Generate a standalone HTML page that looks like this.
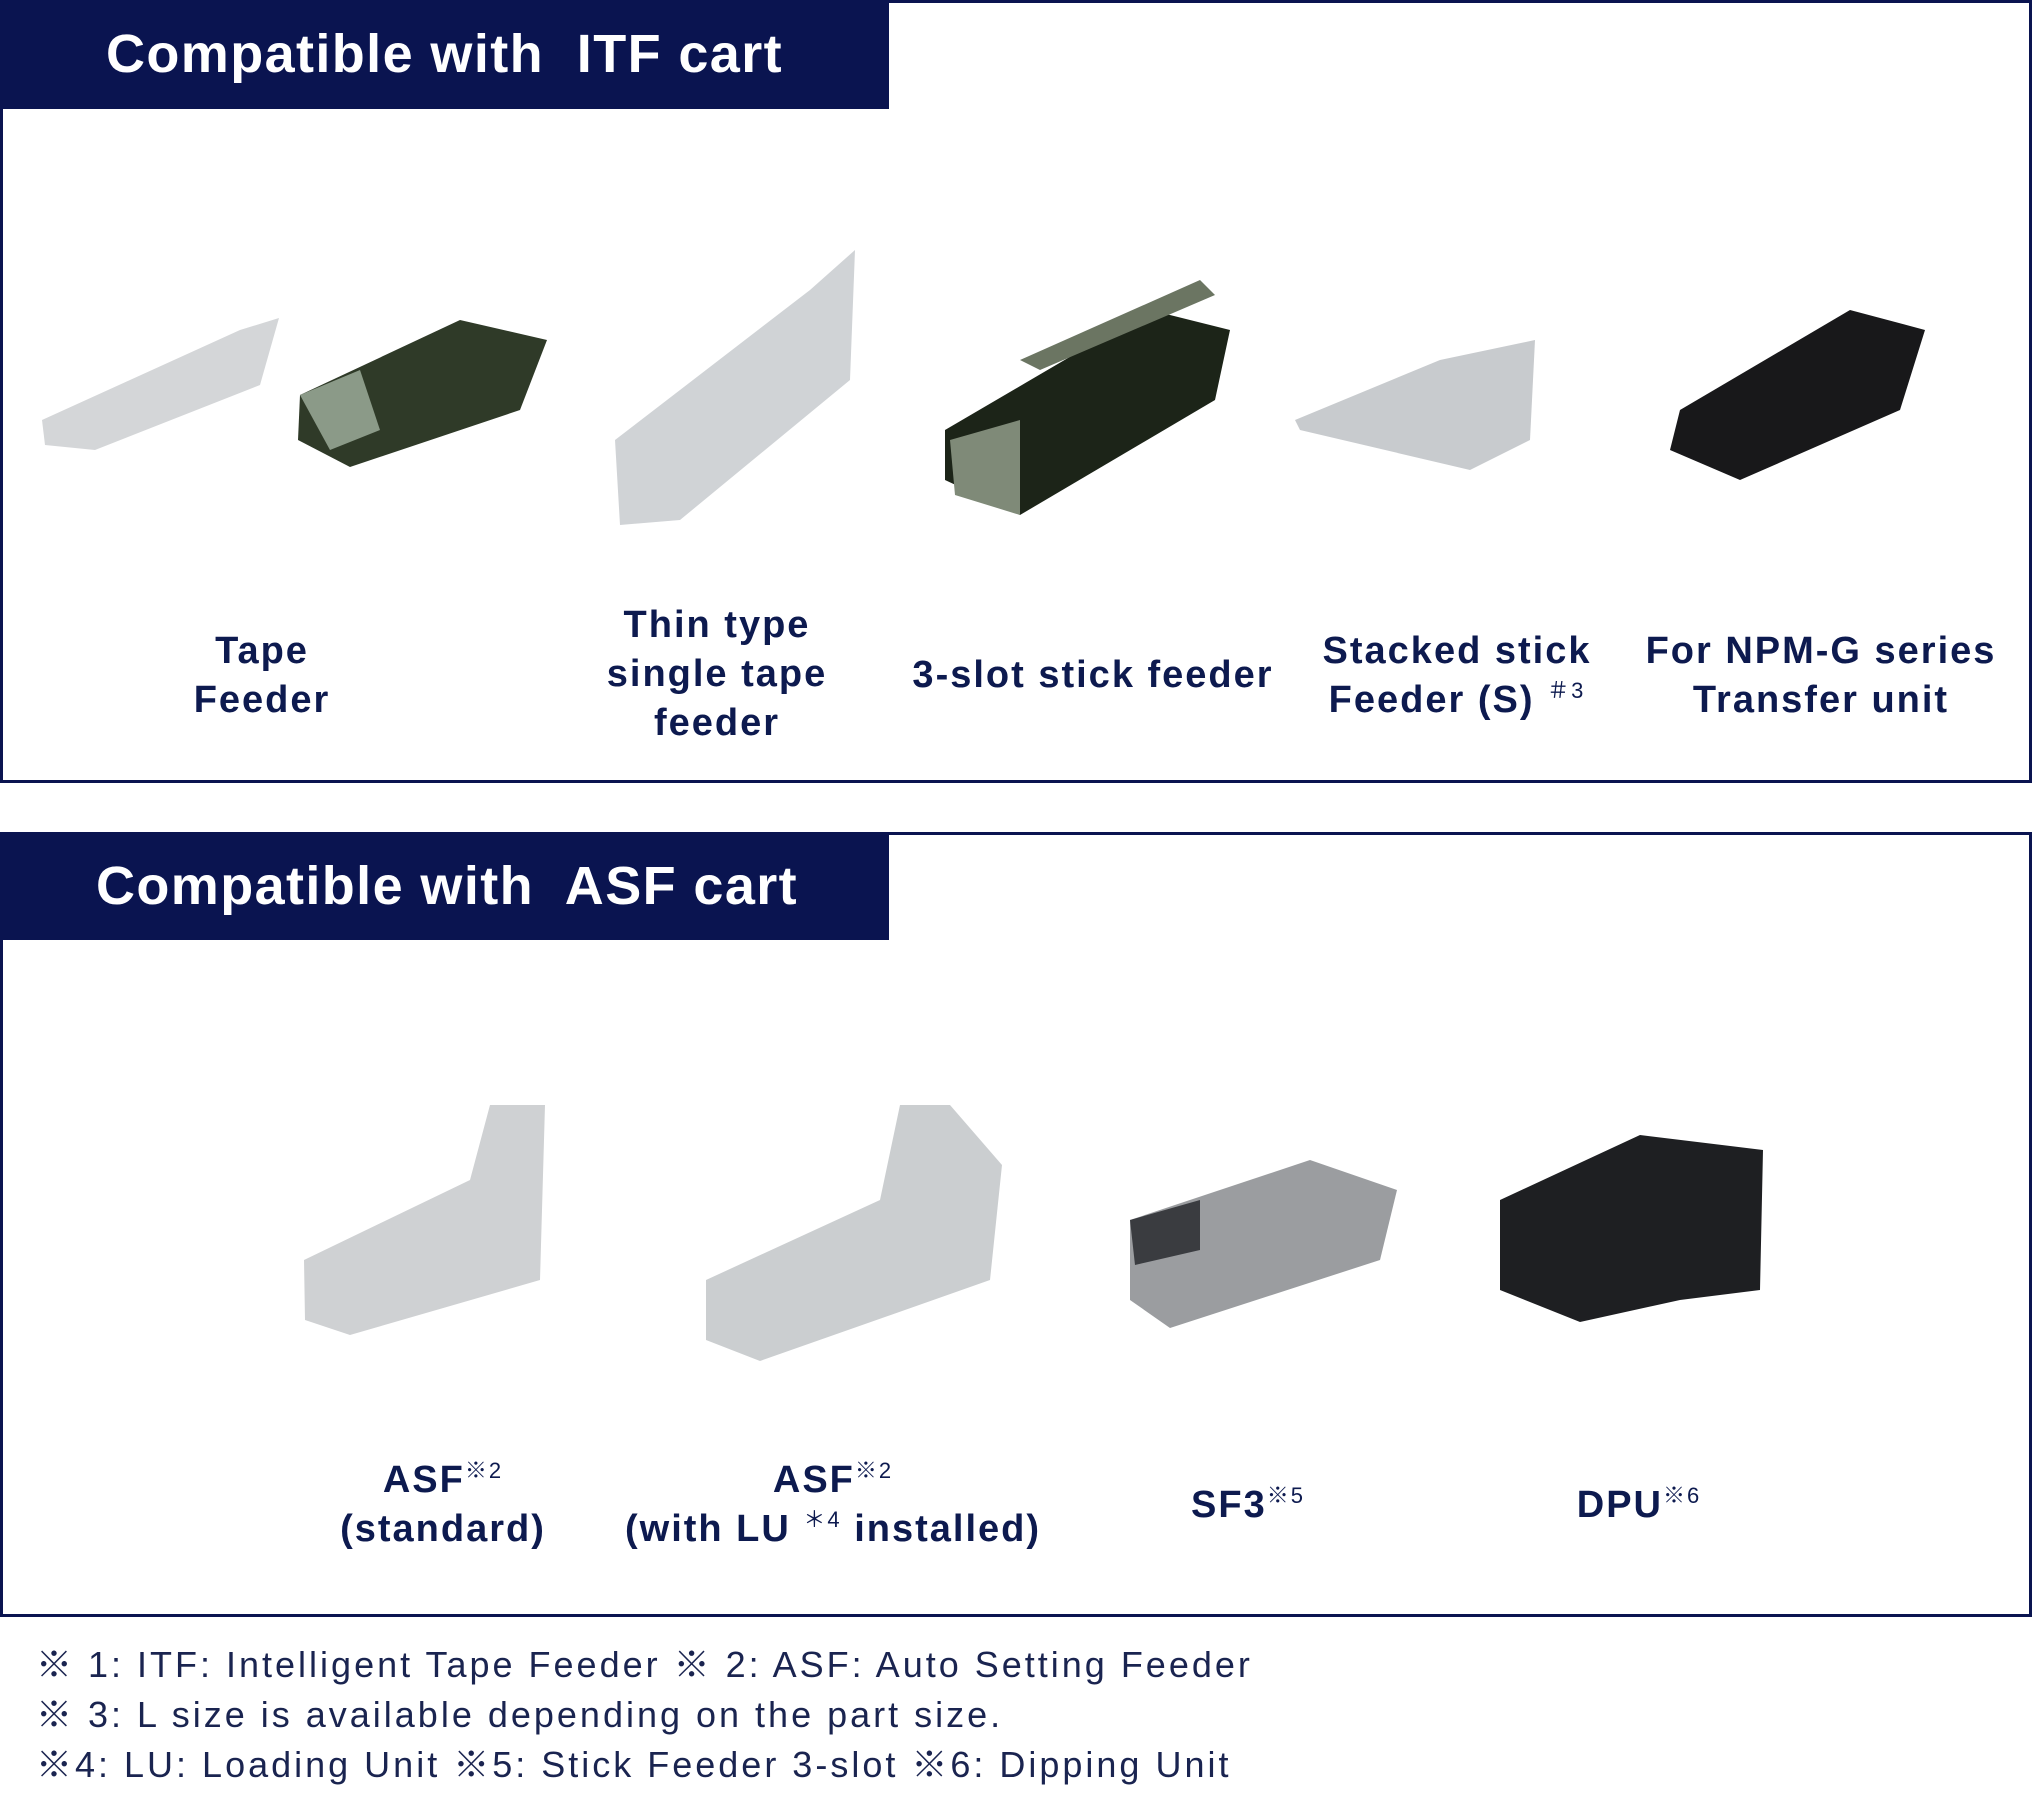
<!DOCTYPE html>
<html><head><meta charset="utf-8"><style>
body{margin:0;width:2032px;height:1816px;background:#fff;position:relative;overflow:hidden;font-family:"Liberation Sans","Noto Sans CJK JP",sans-serif;color:#0d1a4f}
.box{position:absolute;left:0;width:2026px;border:3px solid #0a1450}
.hdr{position:absolute;left:0;width:889px;background:#0a1450;color:#fff;font-size:54px;font-weight:bold;line-height:108px;letter-spacing:1.4px}
.lbl{position:absolute;text-align:center;font-weight:bold;font-size:38px;line-height:49px;white-space:nowrap;transform:translateX(-50%);letter-spacing:2px}
sup{font-size:22px;vertical-align:14px;font-weight:normal;line-height:0}
.fn{position:absolute;left:36px;font-size:36px;line-height:50px;color:#1a2450;letter-spacing:3px;white-space:nowrap}
svg{position:absolute;left:0;top:0}
</style></head><body>
<div class="box" style="top:0;height:777px"></div>
<div class="hdr" style="top:0;height:109px;padding-left:106px;box-sizing:border-box">Compatible with&nbsp; ITF cart</div>
<div class="box" style="top:832px;height:779px"></div>
<div class="hdr" style="top:832px;height:108px;padding-left:96px;box-sizing:border-box">Compatible with&nbsp; ASF cart</div>
<svg width="2032" height="1816">
<g>
<polygon points="42,420 240,330 279,318 260,385 95,450 45,445" fill="#d4d6d8"/>
<polygon points="300,395 460,320 547,340 520,410 350,467 298,440" fill="#2f3a28"/>
<polygon points="300,395 360,370 380,430 330,450" fill="#8b9a88"/>
<polygon points="615,440 810,290 855,250 850,380 680,520 620,525" fill="#d0d3d6"/>
<polygon points="945,430 1150,310 1230,330 1215,400 1020,515 945,480" fill="#1c2418"/>
<polygon points="950,440 1020,420 1020,515 955,495" fill="#7f8a78"/>
<polygon points="1020,360 1200,280 1215,295 1040,370" fill="#6b7562"/>
<polygon points="1295,420 1440,360 1535,340 1530,440 1470,470 1300,430" fill="#c8cbce"/>
<polygon points="1680,410 1850,310 1925,330 1900,410 1740,480 1670,450" fill="#18181a"/>
<polygon points="304,1260 470,1180 490,1105 545,1105 540,1280 350,1335 305,1320" fill="#cfd1d3"/>
<polygon points="706,1280 880,1200 900,1105 950,1105 1002,1165 990,1280 760,1361 706,1340" fill="#cbced0"/>
<polygon points="1130,1220 1310,1160 1397,1190 1380,1260 1170,1328 1130,1300" fill="#9b9da0"/>
<polygon points="1130,1220 1200,1200 1200,1250 1135,1265" fill="#3a3c40"/>
<polygon points="1500,1200 1640,1135 1763,1150 1760,1290 1680,1300 1580,1322 1500,1290" fill="#1e1f22"/>
</g>
</svg>
<div class="lbl" style="left:262px;top:627px">Tape<br>Feeder</div>
<div class="lbl" style="left:717px;top:601px">Thin type<br>single tape<br>feeder</div>
<div class="lbl" style="left:1093px;top:651px">3-slot stick feeder</div>
<div class="lbl" style="left:1457px;top:627px">Stacked stick<br>Feeder (S) <sup>＃3</sup></div>
<div class="lbl" style="left:1821px;top:627px">For NPM-G series<br>Transfer unit</div>
<div class="lbl" style="left:443px;top:1456px">ASF<sup>※2</sup><br>(standard)</div>
<div class="lbl" style="left:833px;top:1456px">ASF<sup>※2</sup><br>(with LU <sup>＊4</sup> installed)</div>
<div class="lbl" style="left:1248px;top:1481px">SF3<sup>※5</sup></div>
<div class="lbl" style="left:1639px;top:1481px">DPU<sup>※6</sup></div>
<div class="fn" style="top:1640px">※ 1: ITF: Intelligent Tape Feeder ※ 2: ASF: Auto Setting Feeder</div>
<div class="fn" style="top:1690px">※ 3: L size is available depending on the part size.</div>
<div class="fn" style="top:1740px">※4: LU: Loading Unit ※5: Stick Feeder 3-slot ※6: Dipping Unit</div>
</body></html>
